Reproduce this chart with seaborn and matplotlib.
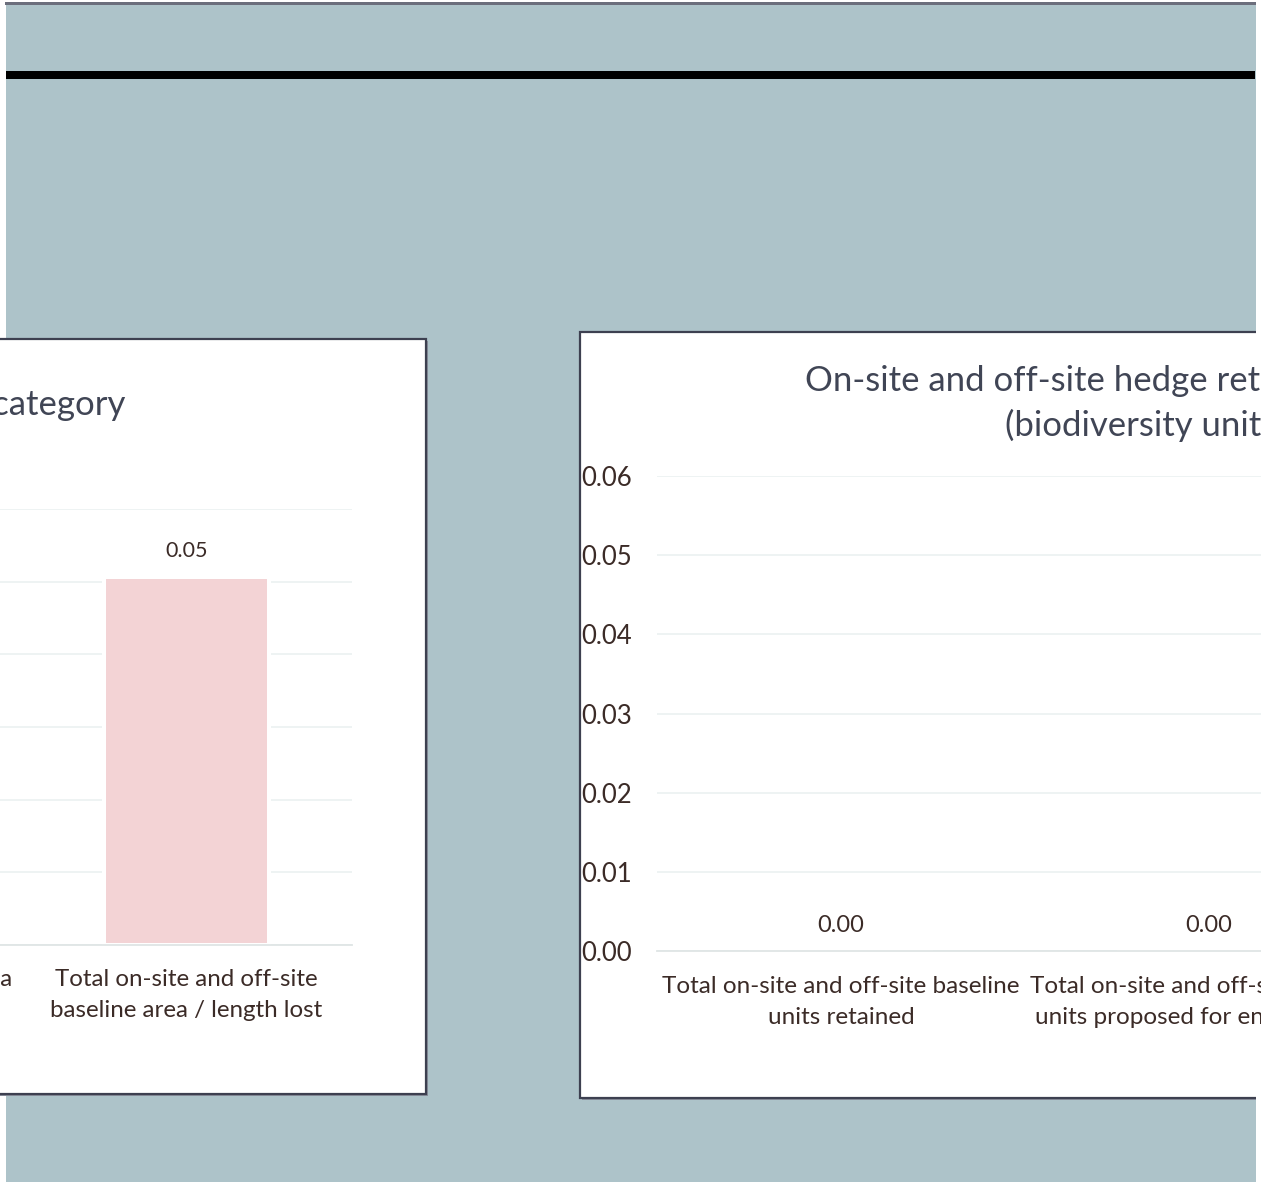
import numpy as np
import matplotlib
matplotlib.use("Agg")
import matplotlib.pyplot as plt
import seaborn as sns
from matplotlib.patches import Rectangle

# Data
left_cats = ["Total on-site and off-site area\n/ length retained",
             "Total on-site and off-site\nbaseline area / length lost"]
left_vals = [0.0, 0.0506]
left_ticks = [0.00, 0.01, 0.02, 0.03, 0.04, 0.05, 0.06]

right_cats = ["Total on-site and off-site baseline\nunits retained",
              "Total on-site and off-site baseline\nunits proposed for enhancement"]
right_vals = [0.0, 0.0]
right_ticks = [0.00, 0.01, 0.02, 0.03, 0.04, 0.05, 0.06]

left_title = "On-site and off-site habitat baseline by category"
right_title_1 = "On-site and off-site hedge retention and enhancement"
right_title_2 = "(biodiversity units)"

# Style
sns.set_style("white")
plt.rcParams['font.family'] = ['Lato', 'DejaVu Sans']

W, H = 1261, 1182
bg = "#adc3c9"
border = "#3d4050"
grid_c = "#edf2f2"
axis_c = "#dfe5e5"
bar_c = "#f3d3d5"
title_c = "#404555"
text_c = "#3b2b27"

fig = plt.figure(figsize=(W / 100, H / 100), dpi=100, facecolor="white")


def fx(px):
    return px / W


def fy(py):
    return 1 - py / H


def box(x0, y0, x1, y1, **kw):
    r = Rectangle((fx(x0), fy(y1)), fx(x1) - fx(x0), fy(y0) - fy(y1),
                  transform=fig.transFigure, figure=fig, **kw)
    fig.patches.append(r)


# sheet background and frame lines
box(6, 4, 1256, 1182, facecolor=bg, edgecolor="none", zorder=-10)
box(5, 2.5, 1257, 5, facecolor="#6b6e7c", edgecolor="none", zorder=-9)
box(6, 71, 1255, 79, facecolor="black", edgecolor="none", zorder=-9)

# chart boxes (with a light shadow)
box(-20, 341, 428, 1096, facecolor="#8a8f9c", edgecolor="none", zorder=-8)
box(-20, 339, 426, 1094, facecolor="white", edgecolor=border, linewidth=1.6, zorder=-7)
box(582, 334, 1300, 1100, facecolor="#8a8f9c", edgecolor="none", zorder=-8)
box(580, 332, 1300, 1098, facecolor="white", edgecolor=border, linewidth=1.6, zorder=-7)
box(1256, 0, 1262, 1182, facecolor="white", edgecolor="none", zorder=-6)


def make_bar_axes(l, r, t, b, cats, vals, ticks, tick_size, val_size, lab_size,
                  ypad, xpad, vpad):
    ax = fig.add_axes([fx(l), fy(b), fx(r) - fx(l), fy(t) - fy(b)])
    ax.set_facecolor("none")
    sns.barplot(x=cats, y=vals, ax=ax, color=bar_c, width=0.5, saturation=1,
                edgecolor="white", linewidth=2.9, zorder=2)
    ax.set_ylim(ticks[0], ticks[-1])
    ax.set_yticks(ticks)
    ax.set_yticklabels([f"{t:.2f}" for t in ticks])
    ax.yaxis.grid(True, color=grid_c, linewidth=1.3, zorder=0)
    ax.set_axisbelow(True)
    for s in ["top", "right", "left"]:
        ax.spines[s].set_visible(False)
    ax.spines["bottom"].set_color(axis_c)
    ax.spines["bottom"].set_linewidth(1.3)
    ax.spines["bottom"].set_zorder(2.5)
    ax.set_xlim(-0.5, len(cats) - 0.5)
    ax.set_xticks(np.arange(len(cats) + 1) - 0.5, minor=True)
    ax.tick_params(axis="x", which="major", length=0, pad=xpad, labelsize=lab_size,
                   labelcolor=text_c)
    ax.tick_params(axis="x", which="minor", length=6, width=1.3, color=axis_c)
    ax.tick_params(axis="y", length=0, pad=ypad, labelsize=tick_size, labelcolor=text_c)
    for lab in ax.get_xticklabels():
        lab.set_linespacing(1.6)
    ax.set_xlabel("")
    ax.set_ylabel("")
    for c in ax.containers:
        ax.bar_label(c, fmt="%.2f", padding=vpad, fontsize=val_size, color=text_c)
    return ax


make_bar_axes(-310, 352, 509, 945, left_cats, left_vals, left_ticks,
              17, 15.5, 17.4, 18, 17, 12)
make_bar_axes(657, 1393, 476, 951, right_cats, right_vals, right_ticks,
              18.5, 17, 17.5, 18, 18, 11)

# titles
fig.text(fx(125), fy(405), left_title, ha="right", va="center",
         fontsize=25, color=title_c)
fig.text(fx(805), fy(381), right_title_1, ha="left", va="center",
         fontsize=25, color=title_c)
fig.text(fx(1005), fy(425), right_title_2, ha="left", va="center",
         fontsize=25, color=title_c)

fig.savefig("out.png", dpi=100, facecolor="white")
